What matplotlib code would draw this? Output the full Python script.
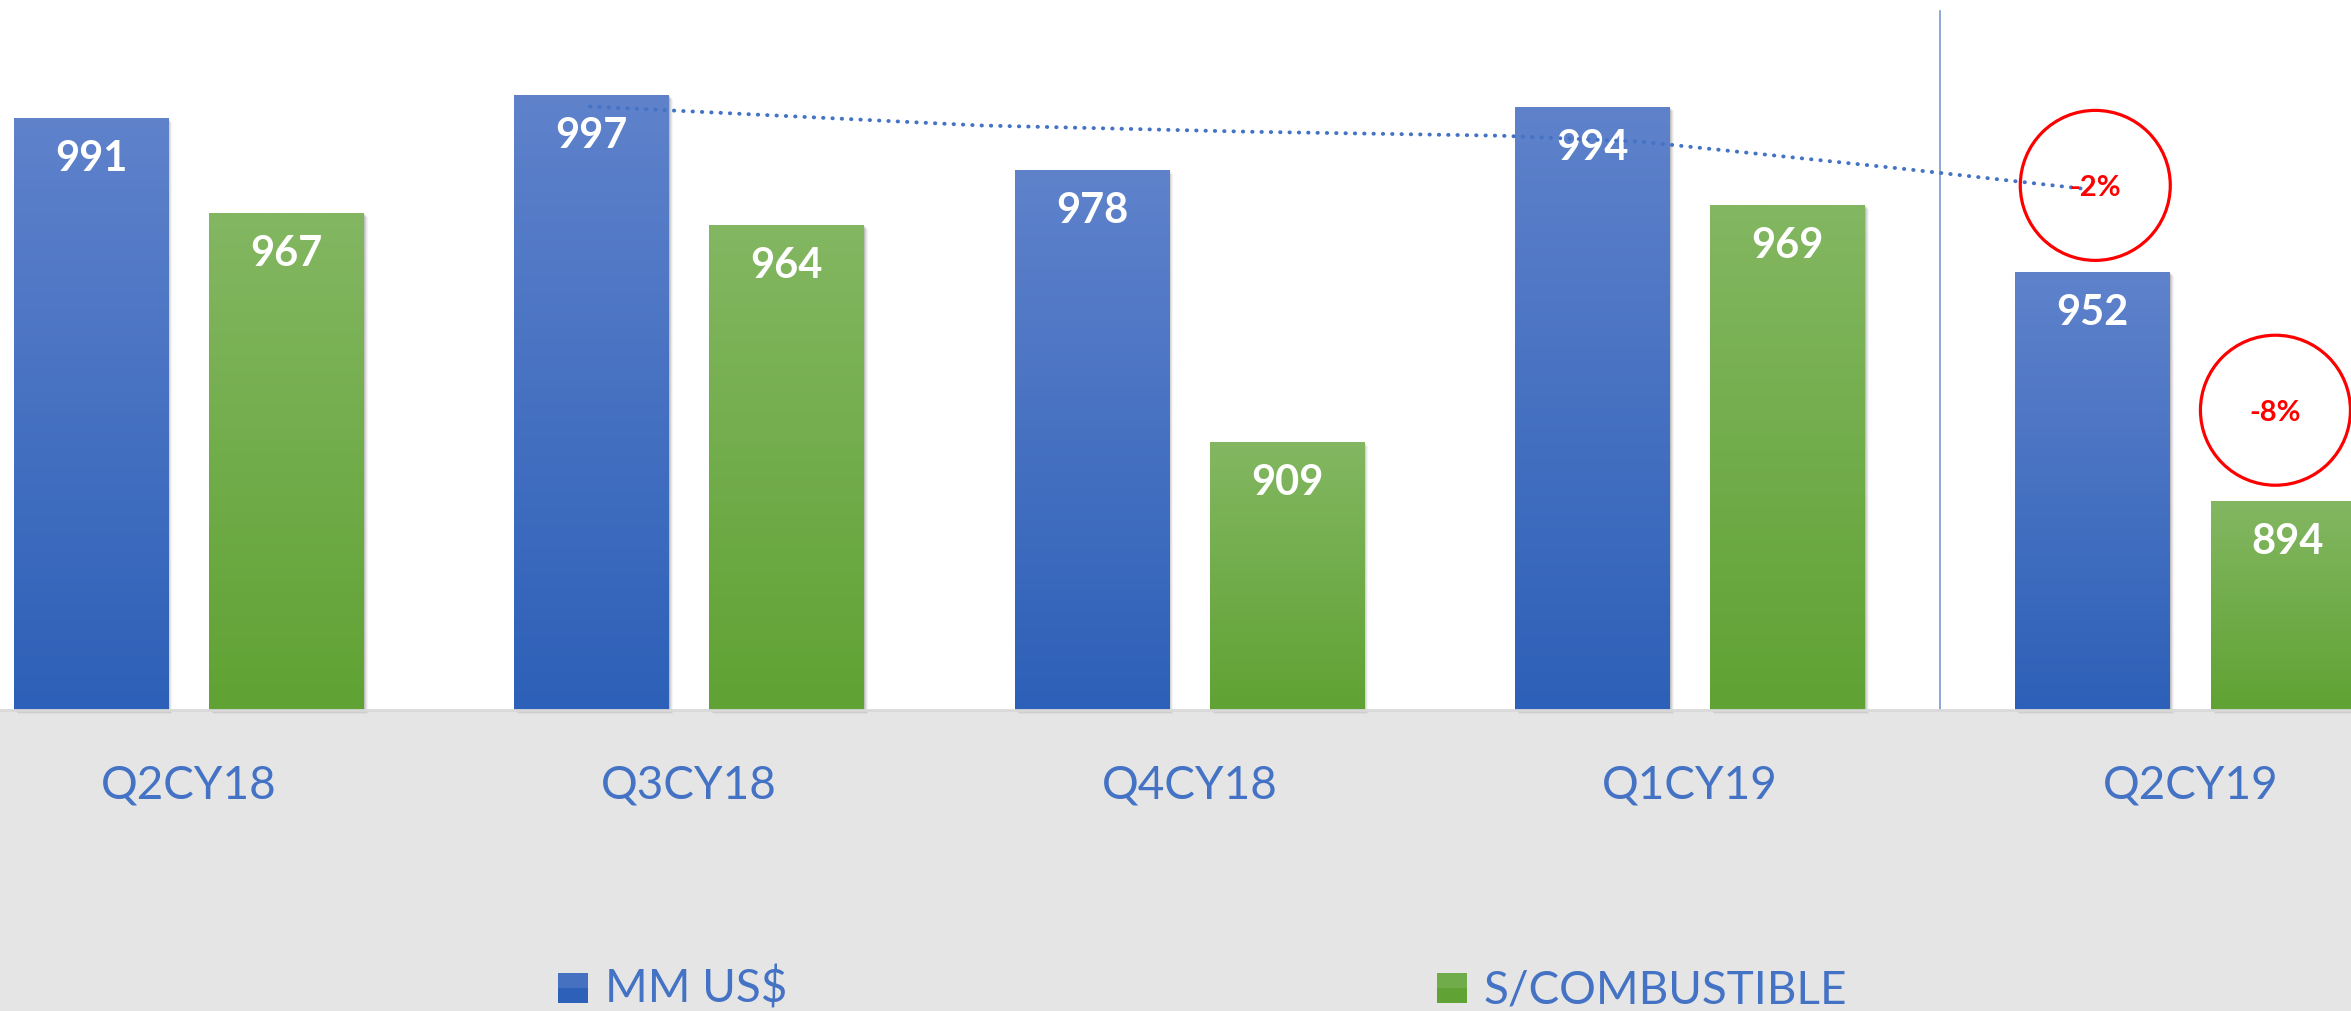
import numpy as np
import matplotlib
matplotlib.use('Agg')
import matplotlib.pyplot as plt
import matplotlib.transforms as mtransforms
from matplotlib.patches import Rectangle
from matplotlib.colors import to_rgb

#### data
categories = ['Q2CY18', 'Q3CY18', 'Q4CY18', 'Q1CY19', 'Q2CY19']
series_names = ['MM US$', 'S/COMBUSTIBLE']
mm_usd = [991, 997, 978, 994, 952]
s_combustible = [967, 964, 909, 969, 894]

# variacion anotada (circulos rojos)
pct_labels = ['-2%', '-8%']
pct_x = [3.81, 4.17]
pct_y = [974.0, 917.0]

# linea punteada de tendencia (dibujada a mano en el original)
trend_x = [0.802, 1.581, 2.121, 2.621, 2.900, 3.419, 3.783]
trend_y = [994.0, 989.2, 987.6, 986.6, 985.1, 978.3, 973.2]

#### estilo
W, H = 2351, 1011
Y_MIN, Y_MAX = 841, 1021
BAR_W = 0.309
OFF = 0.195
TXT_BLUE = '#4472C4'
BG = '#E5E5E5'
grad_cols = [('#5F82CB', '#2D60B8'), ('#83B762', '#60A233')]
FONT = 'Lato'

fig = plt.figure(figsize=(W / 100, H / 100), dpi=100, facecolor=BG)
ax = fig.add_axes([0, 1 - 710 / H, 1, 710 / H])
ax.set_facecolor('white')

x = np.arange(len(categories))
shadow_tr = [mtransforms.offset_copy(ax.transData, fig=fig, x=d, y=-d, units='dots') for d in (1, 2, 3, 4)]

for vals, off, (ctop, cbot) in zip([mm_usd, s_combustible], [-OFF, OFF], grad_cols):
  bars = ax.bar(x + off, np.array(vals) - Y_MIN, BAR_W, bottom=Y_MIN, color=cbot, zorder=3)
  # sombra
  for k, tr in enumerate(shadow_tr):
    ax.bar(x + off, np.array(vals) - Y_MIN, BAR_W, bottom=Y_MIN, color='black',
           alpha=0.10 - k * 0.02, transform=tr, zorder=2, clip_on=False)
  # degradado
  c1 = np.array(to_rgb(ctop)); c2 = np.array(to_rgb(cbot))
  t = np.linspace(0, 1, 256)[:, None]
  grad = (c1 * (1 - t) + c2 * t)[:, None, :]
  for b, v in zip(bars, vals):
    x0 = b.get_x()
    im = ax.imshow(grad, extent=[x0, x0 + BAR_W, Y_MIN, v], aspect='auto', zorder=4, origin='upper')
    im.set_clip_path(b)
    ax.annotate(str(v), (x0 + BAR_W / 2, v), xytext=(0, -41), textcoords='offset pixels',
                ha='center', va='center', color='white', fontsize=30, fontweight='bold',
                family=FONT, zorder=6)

# separador
ax.plot([len(categories) - 1.5] * 2, [Y_MIN, 1018.3], color='#6F8ED0', lw=1.1, zorder=1)

# tendencia punteada
ax.plot(trend_x, trend_y, color='#4472C4', lw=2.8, linestyle=(0, (0.1, 2.3)),
        dash_capstyle='round', zorder=7)

# circulos
ax.scatter(pct_x, pct_y, s=108 ** 2, facecolors='none', edgecolors='#FF0000', linewidths=2.3, zorder=8)
for lab, px, py in zip(pct_labels, pct_x, pct_y):
  ax.text(px, py - 0.6, lab, ha='center', va='center', color='#FF0000', fontsize=21,
          fontweight='bold', family=FONT, zorder=9)

ax.set_xlim(-0.377, 4.321)
ax.set_ylim(Y_MIN, Y_MAX)
ax.set_xticks(x)
ax.set_xticklabels(categories, fontsize=33, color=TXT_BLUE, family=FONT)
ax.tick_params(axis='x', length=0, pad=39)
ax.set_yticks([])
for s in ['top', 'left', 'right']:
  ax.spines[s].set_visible(False)
ax.spines['bottom'].set_color('#D9D9D9')
ax.spines['bottom'].set_linewidth(2)
ax.spines['bottom'].set_zorder(10)

# leyenda
leg_x = [558, 1437]
for lx, name, (ctop, cbot) in zip(leg_x, series_names, grad_cols):
  fig.add_artist(Rectangle((lx / W, 1 - 1003 / H), 30 / W, 30 / H, transform=fig.transFigure,
                           color=cbot, lw=0))
  fig.add_artist(Rectangle((lx / W, 1 - 988 / H), 30 / W, 15 / H, transform=fig.transFigure,
                           color=ctop, lw=0, alpha=0.5))
  fig.text((lx + 47) / W, 1 - 1003 / H, name, ha='left', va='baseline', fontsize=33,
           color=TXT_BLUE, family=FONT)

fig.savefig('out.png', dpi=100, facecolor=BG)
